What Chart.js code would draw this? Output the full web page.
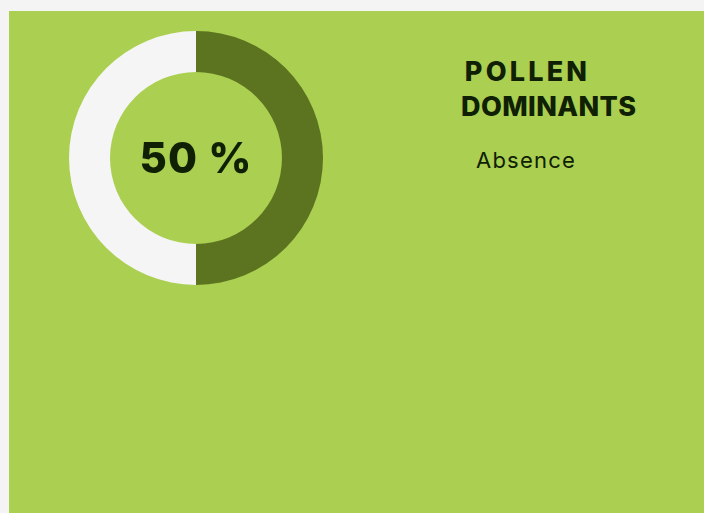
<!DOCTYPE html>
<html>
<head>
<meta charset="utf-8">
<script src="https://cdn.jsdelivr.net/npm/chart.js@4"></script>
<style>
  body{margin:0;background:#f4f4f5;width:704px;height:513px;overflow:hidden;font-family:"Inter","Open Sans",sans-serif;}
  #panel{position:absolute;left:9px;top:11px;width:695px;height:502px;background:#abcf50;}
  #chartBox{position:absolute;left:60px;top:20px;width:254px;height:254px;}
  #center{position:absolute;left:60px;top:20px;width:254px;height:254px;line-height:254px;text-align:center;
    font-weight:800;font-size:42px;color:#0f2005;letter-spacing:1px;}
  #title{position:absolute;left:452px;top:43px;width:130px;text-align:center;font-weight:800;font-size:27px;
    line-height:35px;color:#0f2005;letter-spacing:0.4px;white-space:nowrap;}
  #title .w1{letter-spacing:3.2px;margin-right:-3px;}
  #sub{position:absolute;left:452px;top:136px;width:130px;text-align:center;font-size:22px;color:#0f2005;letter-spacing:1.2px;}
</style>
</head>
<body>
<div id="panel">
  <div id="chartBox"><canvas id="pollenChart"></canvas></div>
  <div id="center">50 %</div>
  <div id="title"><span class="w1">POLLEN</span><br>DOMINANTS</div>
  <div id="sub">Absence</div>
</div>
<script>
var labels=["Pollen","Reste"];
var values=[50,50];
var colors=["#5c7320","#f5f5f5"];

let ctx=document.getElementById("pollenChart").getContext("2d");
let pollenDoughnut=new Chart(ctx,{
    type:"doughnut",
    data:{
        labels:labels,
        datasets:[
            {
                data:values,
                backgroundColor:colors,
                borderWidth:0,
                hoverOffset:0
            }
        ]
    },
    options:{
        responsive:true,
        maintainAspectRatio:false,
        animation:false,
        cutout:"67.7%",
        layout:{padding:0},
        plugins:{
            legend:{display:false},
            tooltip:{enabled:false}
        }
    }
});
</script>
</body>
</html>
